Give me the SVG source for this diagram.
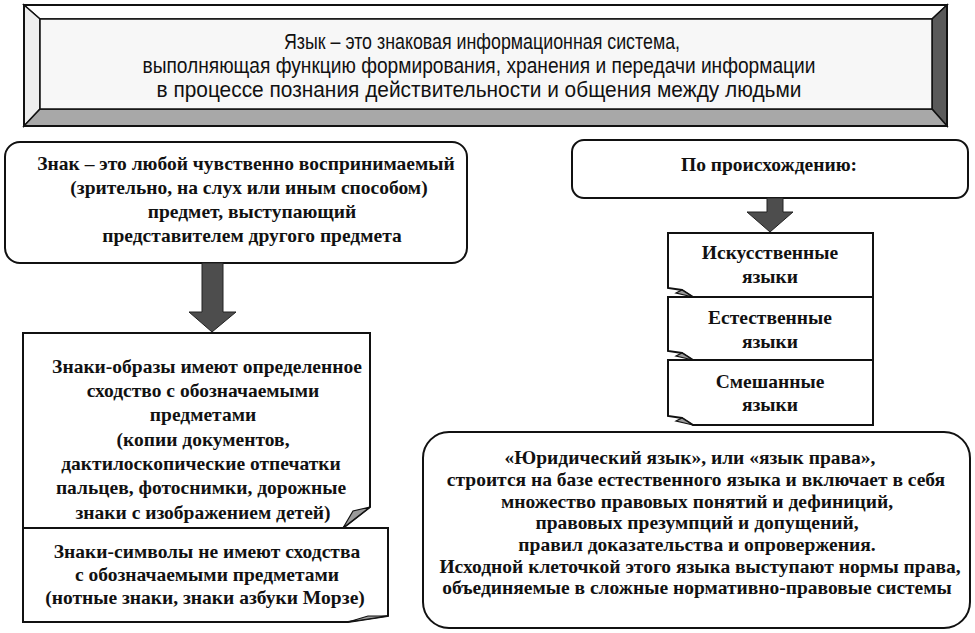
<svg xmlns="http://www.w3.org/2000/svg" width="975" height="633" viewBox="0 0 975 633">
<style>
.s{font-family:"Liberation Serif","Times New Roman",Times,serif;font-weight:bold;font-size:19.5px;fill:#111;text-anchor:middle}
.t{font-family:"Liberation Sans","Arial",sans-serif;font-size:22px;fill:#111;text-anchor:middle}
.box{fill:#fff;stroke:#111;stroke-width:2}
.fold{fill:#9a9a9a;stroke:#111;stroke-width:1.2}
.arrow{fill:#4d4d4d;stroke:#222;stroke-width:1}
</style>
<rect width="975" height="633" fill="#fff"/>
<g id="title">
<polygon points="24,5 947,5 932,19 40,19" fill="#fff" stroke="#111" stroke-width="1.5"/>
<polygon points="24,5 40,19 40,109 24,126" fill="#eeeeee" stroke="#111" stroke-width="1.5"/>
<polygon points="947,5 947,126 932,109 932,19" fill="#5a5a5a" stroke="#111" stroke-width="1.5"/>
<polygon points="24,126 40,109 932,109 947,126" fill="#a8a8a8" stroke="#111" stroke-width="1.5"/>
<rect x="40" y="19" width="892" height="90" fill="#f7f7f7" stroke="#111" stroke-width="1.5"/>
<rect x="24" y="5" width="923" height="121" fill="none" stroke="#111" stroke-width="2"/>
<text class="t" x="482" y="49" textLength="396" lengthAdjust="spacingAndGlyphs">Язык – это знаковая информационная система,</text>
<text class="t" x="479" y="73" textLength="673" lengthAdjust="spacingAndGlyphs">выполняющая функцию формирования, хранения и передачи информации</text>
<text class="t" x="479" y="97" textLength="645" lengthAdjust="spacingAndGlyphs">в процессе познания действительности и общения между людьми</text>
</g>
<g id="sign">
<rect class="box" x="5" y="142" width="462" height="121" rx="15"/>
<text class="s" x="246" y="170">Знак – это любой чувственно воспринимаемый</text>
<text class="s" x="249" y="194">(зрительно, на слух или иным способом)</text>
<text class="s" x="252" y="218">предмет, выступающий</text>
<text class="s" x="252" y="242">представителем другого предмета</text>
</g>
<g id="images">
<path class="box" d="M23,333 H370 V507 L343,528 H23 Z"/>
<polygon class="fold" points="370,507 353,511 343,528"/>
<text class="s" x="207" y="373">Знаки-образы имеют определенное</text>
<text class="s" x="203" y="397">сходство с обозначаемыми</text>
<text class="s" x="203" y="421">предметами</text>
<text class="s" x="203" y="446">(копии документов,</text>
<text class="s" x="201" y="470">дактилоскопические отпечатки</text>
<text class="s" x="201" y="494">пальцев, фотоснимки, дорожные</text>
<text class="s" x="203" y="519">знаки с изображением детей)</text>
</g>
<g id="symbols">
<path class="box" d="M23,528 H388 V616 L348,622 H23 Z"/>
<polygon class="fold" points="388,616 368,616 348,622"/>
<text class="s" x="207" y="558">Знаки-символы не имеют сходства</text>
<text class="s" x="207" y="581">с обозначаемыми предметами</text>
<text class="s" x="205" y="604">(нотные знаки, знаки азбуки Морзе)</text>
</g>
<g id="origin">
<rect class="box" x="572" y="140" width="396" height="58" rx="12"/>
<text class="s" x="769" y="171">По происхождению:</text>
</g>
<g id="artificial">
<path class="box" d="M668,233 H873 V297 H693 L682,290 L668,288 Z"/>
<polygon class="fold" points="682,290 693,297 676,293"/>
<text class="s" x="770" y="259">Искусственные</text>
<text class="s" x="770" y="283">языки</text>
</g>
<g id="natural">
<path class="box" d="M668,297 H873 V360 H693 L682,353 L668,351 Z"/>
<polygon class="fold" points="682,353 693,360 676,356"/>
<text class="s" x="770" y="324">Естественные</text>
<text class="s" x="770" y="348">языки</text>
</g>
<g id="mixed">
<path class="box" d="M668,360 H873 V425 H693 L682,418 L668,416 Z"/>
<polygon class="fold" points="682,418 693,425 676,421"/>
<text class="s" x="770" y="388">Смешанные</text>
<text class="s" x="770" y="411">языки</text>
</g>
<g id="legal">
<rect class="box" x="423" y="432" width="547" height="196" rx="26"/>
<text class="s" x="690" y="464">«Юридический язык», или «язык права»,</text>
<text class="s" x="696" y="486">строится на базе естественного языка и включает в себя</text>
<text class="s" x="697" y="508">множество правовых понятий и дефиниций,</text>
<text class="s" x="697" y="529">правовых презумпций и допущений,</text>
<text class="s" x="697" y="551">правил доказательства и опровержения.</text>
<text class="s" x="700" y="573">Исходной клеточкой этого языка выступают нормы права,</text>
<text class="s" x="697" y="594">объединяемые в сложные нормативно-правовые системы</text>
</g>
<g id="connectors">
<polygon class="arrow" points="202,263 223,263 223,312 236,312 212,332 189,312 202,312"/>
<polygon class="arrow" points="767,198 783,198 783,212 793,212 770,232 747,212 767,212"/>
</g>
</svg>
